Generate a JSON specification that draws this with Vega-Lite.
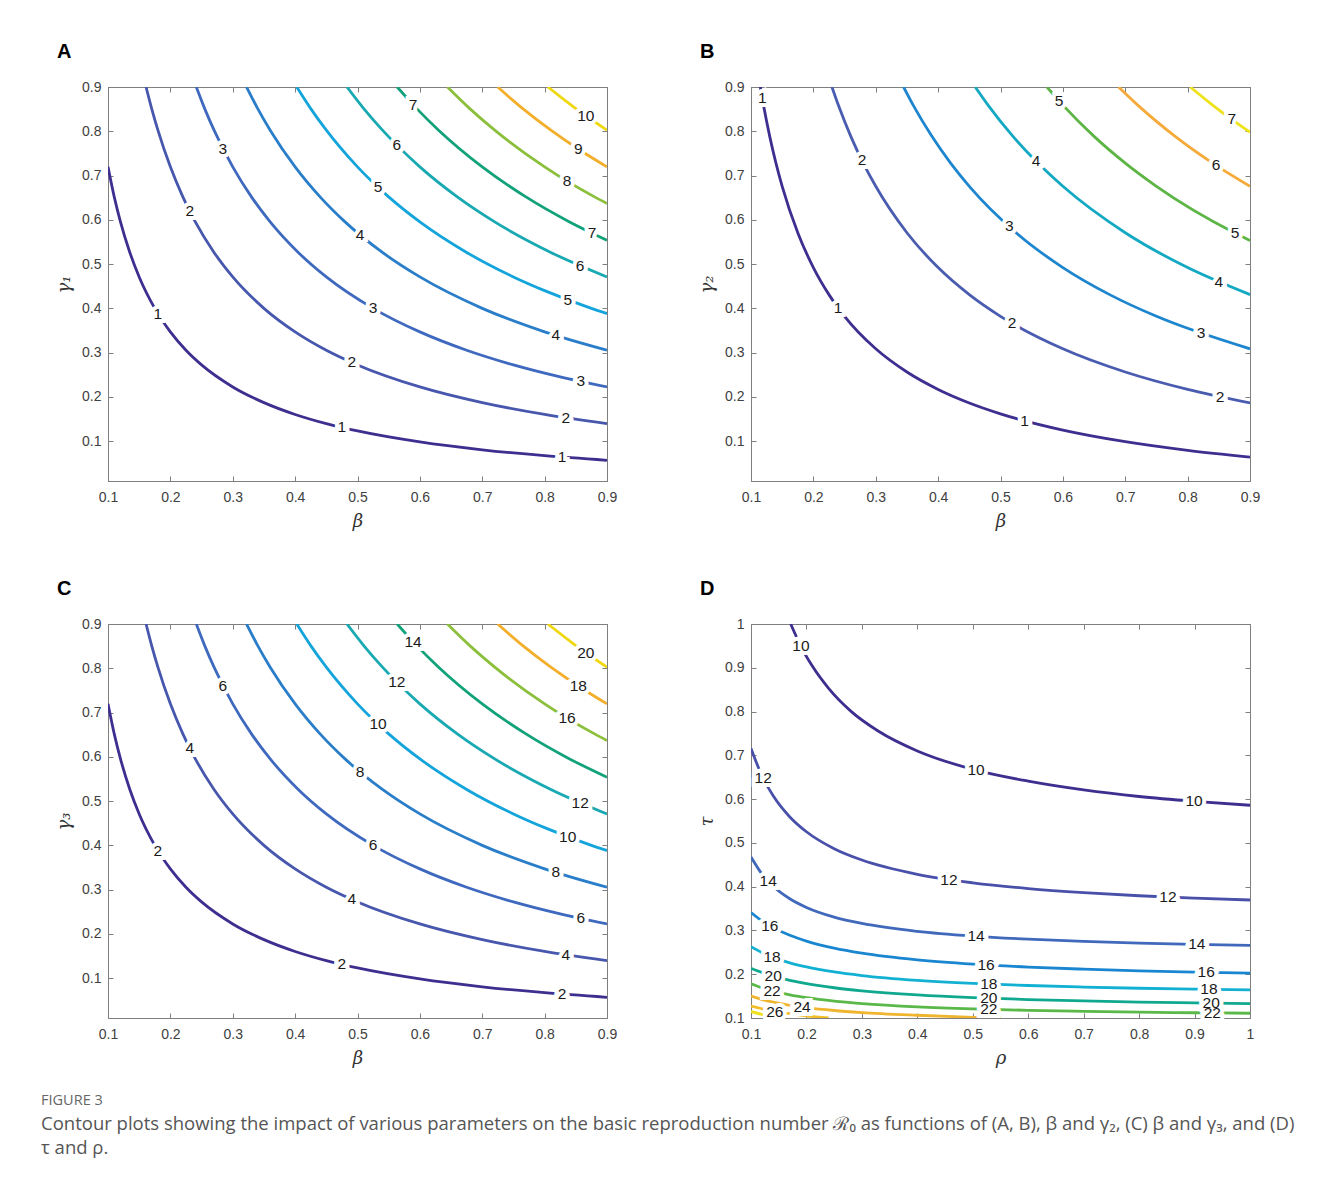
{
"$schema": "https://vega.github.io/schema/vega-lite/v6.json",
"background": "white",
"padding": {"left": 41, "top": 41, "right": 5, "bottom": 5},
"bounds": "flush",
"columns": 2,
"spacing": {"row": 143, "column": 144},
"resolve": {"scale": {"color": "independent"}},
"title": {"text": "FIGURE 3", "subtitle": ["Contour plots showing the impact of various parameters on the basic reproduction number ℛ₀ as functions of (A, B), β and γ₂, (C) β and γ₃, and (D)", "τ and ρ."], "orient": "bottom", "anchor": "start", "frame": "bounds", "dx": -14, "offset": 26, "font": "Open Sans", "fontSize": 14.5, "fontWeight": "normal", "color": "#666666", "subtitleFont": "Open Sans", "subtitleFontSize": 18.5, "subtitleColor": "#555555", "subtitleLineHeight": 24, "subtitlePadding": 7},
"datasets": {
"A": [
{"x":0.1,"y":0.7196,"level":1},{"x":0.11,"y":0.6518,"level":1},{"x":0.12,"y":0.5953,"level":1},{"x":0.135,"y":0.5263,"level":1},{"x":0.15,"y":0.471,"level":1},{"x":0.175,"y":0.4,"level":1},{"x":0.2,"y":0.3468,"level":1},{"x":0.225,"y":0.3053,"level":1},{"x":0.25,"y":0.2722,"level":1},{"x":0.3,"y":0.2225,"level":1},{"x":0.35,"y":0.187,"level":1},{"x":0.4,"y":0.1603,"level":1},{"x":0.45,"y":0.1396,"level":1},{"x":0.5,"y":0.123,"level":1},{"x":0.6,"y":0.0982,"level":1},{"x":0.7,"y":0.0804,"level":1},{"x":0.8,"y":0.0671,"level":1},{"x":0.9,"y":0.0568,"level":1},
{"x":0.161,"y":0.9,"level":2},{"x":0.17,"y":0.8512,"level":2},{"x":0.18,"y":0.8025,"level":2},{"x":0.2,"y":0.7196,"level":2},{"x":0.22,"y":0.6518,"level":2},{"x":0.24,"y":0.5953,"level":2},{"x":0.27,"y":0.5263,"level":2},{"x":0.3,"y":0.471,"level":2},{"x":0.35,"y":0.4,"level":2},{"x":0.4,"y":0.3468,"level":2},{"x":0.45,"y":0.3053,"level":2},{"x":0.5,"y":0.2722,"level":2},{"x":0.6,"y":0.2225,"level":2},{"x":0.7,"y":0.187,"level":2},{"x":0.8,"y":0.1603,"level":2},{"x":0.9,"y":0.1396,"level":2},
{"x":0.2416,"y":0.9,"level":3},{"x":0.255,"y":0.8512,"level":3},{"x":0.27,"y":0.8025,"level":3},{"x":0.3,"y":0.7196,"level":3},{"x":0.33,"y":0.6518,"level":3},{"x":0.36,"y":0.5953,"level":3},{"x":0.405,"y":0.5263,"level":3},{"x":0.45,"y":0.471,"level":3},{"x":0.525,"y":0.4,"level":3},{"x":0.6,"y":0.3468,"level":3},{"x":0.675,"y":0.3053,"level":3},{"x":0.75,"y":0.2722,"level":3},{"x":0.825,"y":0.2451,"level":3},{"x":0.9,"y":0.2225,"level":3},
{"x":0.3221,"y":0.9,"level":4},{"x":0.34,"y":0.8512,"level":4},{"x":0.36,"y":0.8025,"level":4},{"x":0.4,"y":0.7196,"level":4},{"x":0.44,"y":0.6518,"level":4},{"x":0.48,"y":0.5953,"level":4},{"x":0.54,"y":0.5263,"level":4},{"x":0.6,"y":0.471,"level":4},{"x":0.7,"y":0.4,"level":4},{"x":0.8,"y":0.3468,"level":4},{"x":0.9,"y":0.3053,"level":4},
{"x":0.4026,"y":0.9,"level":5},{"x":0.425,"y":0.8512,"level":5},{"x":0.45,"y":0.8025,"level":5},{"x":0.5,"y":0.7196,"level":5},{"x":0.55,"y":0.6518,"level":5},{"x":0.6,"y":0.5953,"level":5},{"x":0.675,"y":0.5263,"level":5},{"x":0.75,"y":0.471,"level":5},{"x":0.8,"y":0.44,"level":5},{"x":0.875,"y":0.4,"level":5},{"x":0.9,"y":0.3882,"level":5},
{"x":0.4831,"y":0.9,"level":6},{"x":0.51,"y":0.8512,"level":6},{"x":0.54,"y":0.8025,"level":6},{"x":0.6,"y":0.7196,"level":6},{"x":0.66,"y":0.6518,"level":6},{"x":0.72,"y":0.5953,"level":6},{"x":0.81,"y":0.5263,"level":6},{"x":0.9,"y":0.471,"level":6},
{"x":0.5636,"y":0.9,"level":7},{"x":0.595,"y":0.8512,"level":7},{"x":0.63,"y":0.8025,"level":7},{"x":0.7,"y":0.7196,"level":7},{"x":0.77,"y":0.6518,"level":7},{"x":0.84,"y":0.5953,"level":7},{"x":0.9,"y":0.5539,"level":7},
{"x":0.6442,"y":0.9,"level":8},{"x":0.68,"y":0.8512,"level":8},{"x":0.72,"y":0.8025,"level":8},{"x":0.8,"y":0.7196,"level":8},{"x":0.88,"y":0.6518,"level":8},{"x":0.9,"y":0.6368,"level":8},
{"x":0.7247,"y":0.9,"level":9},{"x":0.765,"y":0.8512,"level":9},{"x":0.81,"y":0.8025,"level":9},{"x":0.855,"y":0.7589,"level":9},{"x":0.9,"y":0.7196,"level":9},
{"x":0.8052,"y":0.9,"level":10},{"x":0.85,"y":0.8512,"level":10},{"x":0.9,"y":0.8025,"level":10}
],
"Alab": [
{"x":0.18,"y":0.388,"label":"1"},{"x":0.475,"y":0.131,"label":"1"},{"x":0.828,"y":0.064,"label":"1"},
{"x":0.231,"y":0.62,"label":"2"},{"x":0.491,"y":0.278,"label":"2"},{"x":0.834,"y":0.153,"label":"2"},
{"x":0.284,"y":0.761,"label":"3"},{"x":0.525,"y":0.4,"label":"3"},{"x":0.858,"y":0.235,"label":"3"},
{"x":0.504,"y":0.566,"label":"4"},{"x":0.818,"y":0.339,"label":"4"},
{"x":0.533,"y":0.673,"label":"5"},{"x":0.837,"y":0.419,"label":"5"},
{"x":0.563,"y":0.769,"label":"6"},{"x":0.857,"y":0.496,"label":"6"},
{"x":0.589,"y":0.86,"label":"7"},{"x":0.876,"y":0.57,"label":"7"},
{"x":0.836,"y":0.688,"label":"8"},{"x":0.854,"y":0.76,"label":"9"},{"x":0.866,"y":0.835,"label":"10"}
],
"C": [
{"x":0.1,"y":0.7196,"level":2},{"x":0.11,"y":0.6518,"level":2},{"x":0.12,"y":0.5953,"level":2},{"x":0.135,"y":0.5263,"level":2},{"x":0.15,"y":0.471,"level":2},{"x":0.175,"y":0.4,"level":2},{"x":0.2,"y":0.3468,"level":2},{"x":0.225,"y":0.3053,"level":2},{"x":0.25,"y":0.2722,"level":2},{"x":0.3,"y":0.2225,"level":2},{"x":0.35,"y":0.187,"level":2},{"x":0.4,"y":0.1603,"level":2},{"x":0.45,"y":0.1396,"level":2},{"x":0.5,"y":0.123,"level":2},{"x":0.6,"y":0.0982,"level":2},{"x":0.7,"y":0.0804,"level":2},{"x":0.8,"y":0.0671,"level":2},{"x":0.9,"y":0.0568,"level":2},
{"x":0.161,"y":0.9,"level":4},{"x":0.17,"y":0.8512,"level":4},{"x":0.18,"y":0.8025,"level":4},{"x":0.2,"y":0.7196,"level":4},{"x":0.22,"y":0.6518,"level":4},{"x":0.24,"y":0.5953,"level":4},{"x":0.27,"y":0.5263,"level":4},{"x":0.3,"y":0.471,"level":4},{"x":0.35,"y":0.4,"level":4},{"x":0.4,"y":0.3468,"level":4},{"x":0.45,"y":0.3053,"level":4},{"x":0.5,"y":0.2722,"level":4},{"x":0.6,"y":0.2225,"level":4},{"x":0.7,"y":0.187,"level":4},{"x":0.8,"y":0.1603,"level":4},{"x":0.9,"y":0.1396,"level":4},
{"x":0.2416,"y":0.9,"level":6},{"x":0.255,"y":0.8512,"level":6},{"x":0.27,"y":0.8025,"level":6},{"x":0.3,"y":0.7196,"level":6},{"x":0.33,"y":0.6518,"level":6},{"x":0.36,"y":0.5953,"level":6},{"x":0.405,"y":0.5263,"level":6},{"x":0.45,"y":0.471,"level":6},{"x":0.525,"y":0.4,"level":6},{"x":0.6,"y":0.3468,"level":6},{"x":0.675,"y":0.3053,"level":6},{"x":0.75,"y":0.2722,"level":6},{"x":0.825,"y":0.2451,"level":6},{"x":0.9,"y":0.2225,"level":6},
{"x":0.3221,"y":0.9,"level":8},{"x":0.34,"y":0.8512,"level":8},{"x":0.36,"y":0.8025,"level":8},{"x":0.4,"y":0.7196,"level":8},{"x":0.44,"y":0.6518,"level":8},{"x":0.48,"y":0.5953,"level":8},{"x":0.54,"y":0.5263,"level":8},{"x":0.6,"y":0.471,"level":8},{"x":0.7,"y":0.4,"level":8},{"x":0.8,"y":0.3468,"level":8},{"x":0.9,"y":0.3053,"level":8},
{"x":0.4026,"y":0.9,"level":10},{"x":0.425,"y":0.8512,"level":10},{"x":0.45,"y":0.8025,"level":10},{"x":0.5,"y":0.7196,"level":10},{"x":0.55,"y":0.6518,"level":10},{"x":0.6,"y":0.5953,"level":10},{"x":0.675,"y":0.5263,"level":10},{"x":0.75,"y":0.471,"level":10},{"x":0.8,"y":0.44,"level":10},{"x":0.875,"y":0.4,"level":10},{"x":0.9,"y":0.3882,"level":10},
{"x":0.4831,"y":0.9,"level":12},{"x":0.51,"y":0.8512,"level":12},{"x":0.54,"y":0.8025,"level":12},{"x":0.6,"y":0.7196,"level":12},{"x":0.66,"y":0.6518,"level":12},{"x":0.72,"y":0.5953,"level":12},{"x":0.81,"y":0.5263,"level":12},{"x":0.9,"y":0.471,"level":12},
{"x":0.5636,"y":0.9,"level":14},{"x":0.595,"y":0.8512,"level":14},{"x":0.63,"y":0.8025,"level":14},{"x":0.7,"y":0.7196,"level":14},{"x":0.77,"y":0.6518,"level":14},{"x":0.84,"y":0.5953,"level":14},{"x":0.9,"y":0.5539,"level":14},
{"x":0.6442,"y":0.9,"level":16},{"x":0.68,"y":0.8512,"level":16},{"x":0.72,"y":0.8025,"level":16},{"x":0.8,"y":0.7196,"level":16},{"x":0.88,"y":0.6518,"level":16},{"x":0.9,"y":0.6368,"level":16},
{"x":0.7247,"y":0.9,"level":18},{"x":0.765,"y":0.8512,"level":18},{"x":0.81,"y":0.8025,"level":18},{"x":0.855,"y":0.7589,"level":18},{"x":0.9,"y":0.7196,"level":18},
{"x":0.8052,"y":0.9,"level":20},{"x":0.85,"y":0.8512,"level":20},{"x":0.9,"y":0.8025,"level":20}
],
"Clab": [
{"x":0.18,"y":0.388,"label":"2"},{"x":0.475,"y":0.131,"label":"2"},{"x":0.828,"y":0.064,"label":"2"},
{"x":0.231,"y":0.62,"label":"4"},{"x":0.491,"y":0.278,"label":"4"},{"x":0.834,"y":0.153,"label":"4"},
{"x":0.284,"y":0.761,"label":"6"},{"x":0.525,"y":0.4,"label":"6"},{"x":0.858,"y":0.235,"label":"6"},
{"x":0.504,"y":0.566,"label":"8"},{"x":0.818,"y":0.339,"label":"8"},
{"x":0.533,"y":0.673,"label":"10"},{"x":0.837,"y":0.419,"label":"10"},
{"x":0.563,"y":0.769,"label":"12"},{"x":0.857,"y":0.496,"label":"12"},
{"x":0.589,"y":0.86,"label":"14"},
{"x":0.836,"y":0.688,"label":"16"},{"x":0.854,"y":0.76,"label":"18"},{"x":0.866,"y":0.835,"label":"20"}
],
"B": [
{"x":0.1149,"y":0.9,"level":1},{"x":0.12,"y":0.8591,"level":1},{"x":0.13,"y":0.7885,"level":1},{"x":0.14,"y":0.7281,"level":1},{"x":0.15,"y":0.6757,"level":1},{"x":0.175,"y":0.5708,"level":1},{"x":0.2,"y":0.4921,"level":1},{"x":0.225,"y":0.431,"level":1},{"x":0.25,"y":0.382,"level":1},{"x":0.3,"y":0.3086,"level":1},{"x":0.35,"y":0.2562,"level":1},{"x":0.4,"y":0.2169,"level":1},{"x":0.45,"y":0.1863,"level":1},{"x":0.5,"y":0.1618,"level":1},{"x":0.6,"y":0.1251,"level":1},{"x":0.7,"y":0.0989,"level":1},{"x":0.8,"y":0.0793,"level":1},{"x":0.9,"y":0.064,"level":1},
{"x":0.2298,"y":0.9,"level":2},{"x":0.24,"y":0.8591,"level":2},{"x":0.26,"y":0.7885,"level":2},{"x":0.28,"y":0.7281,"level":2},{"x":0.3,"y":0.6757,"level":2},{"x":0.35,"y":0.5708,"level":2},{"x":0.4,"y":0.4921,"level":2},{"x":0.45,"y":0.431,"level":2},{"x":0.5,"y":0.382,"level":2},{"x":0.6,"y":0.3086,"level":2},{"x":0.7,"y":0.2562,"level":2},{"x":0.8,"y":0.2169,"level":2},{"x":0.9,"y":0.1863,"level":2},
{"x":0.3446,"y":0.9,"level":3},{"x":0.36,"y":0.8591,"level":3},{"x":0.39,"y":0.7885,"level":3},{"x":0.42,"y":0.7281,"level":3},{"x":0.45,"y":0.6757,"level":3},{"x":0.525,"y":0.5708,"level":3},{"x":0.6,"y":0.4921,"level":3},{"x":0.675,"y":0.431,"level":3},{"x":0.75,"y":0.382,"level":3},{"x":0.9,"y":0.3086,"level":3},
{"x":0.4595,"y":0.9,"level":4},{"x":0.48,"y":0.8591,"level":4},{"x":0.52,"y":0.7885,"level":4},{"x":0.56,"y":0.7281,"level":4},{"x":0.6,"y":0.6757,"level":4},{"x":0.7,"y":0.5708,"level":4},{"x":0.8,"y":0.4921,"level":4},{"x":0.9,"y":0.431,"level":4},
{"x":0.5744,"y":0.9,"level":5},{"x":0.6,"y":0.8591,"level":5},{"x":0.65,"y":0.7885,"level":5},{"x":0.7,"y":0.7281,"level":5},{"x":0.75,"y":0.6757,"level":5},{"x":0.875,"y":0.5708,"level":5},{"x":0.9,"y":0.5533,"level":5},
{"x":0.6893,"y":0.9,"level":6},{"x":0.72,"y":0.8591,"level":6},{"x":0.78,"y":0.7885,"level":6},{"x":0.84,"y":0.7281,"level":6},{"x":0.9,"y":0.6757,"level":6},
{"x":0.8042,"y":0.9,"level":7},{"x":0.84,"y":0.8591,"level":7},{"x":0.87,"y":0.8275,"level":7},{"x":0.9,"y":0.798,"level":7}
],
"Blab": [
{"x":0.118,"y":0.875,"label":"1"},{"x":0.2395,"y":0.401,"label":"1"},{"x":0.5385,"y":0.146,"label":"1"},
{"x":0.278,"y":0.734,"label":"2"},{"x":0.5185,"y":0.366,"label":"2"},{"x":0.852,"y":0.2,"label":"2"},
{"x":0.514,"y":0.585,"label":"3"},{"x":0.8215,"y":0.344,"label":"3"},
{"x":0.557,"y":0.732,"label":"4"},{"x":0.85,"y":0.46,"label":"4"},
{"x":0.594,"y":0.868,"label":"5"},{"x":0.876,"y":0.57,"label":"5"},
{"x":0.8455,"y":0.723,"label":"6"},{"x":0.871,"y":0.827,"label":"7"}
],
"D": [
{"x":0.1716,"y":1.0,"level":10},{"x":0.19,"y":0.949,"level":10},{"x":0.21,"y":0.905,"level":10},{"x":0.24,"y":0.853,"level":10},{"x":0.28,"y":0.801,"level":10},{"x":0.33,"y":0.755,"level":10},{"x":0.4,"y":0.71,"level":10},{"x":0.5,"y":0.668,"level":10},{"x":0.6,"y":0.641,"level":10},{"x":0.7,"y":0.621,"level":10},{"x":0.8,"y":0.606,"level":10},{"x":0.9,"y":0.595,"level":10},{"x":1.0,"y":0.586,"level":10},
{"x":0.1,"y":0.7156,"level":12},{"x":0.12,"y":0.6527,"level":12},{"x":0.14,"y":0.6075,"level":12},{"x":0.17,"y":0.5593,"level":12},{"x":0.2,"y":0.5254,"level":12},{"x":0.25,"y":0.4867,"level":12},{"x":0.3,"y":0.4608,"level":12},{"x":0.4,"y":0.4283,"level":12},{"x":0.5,"y":0.4088,"level":12},{"x":0.6,"y":0.3957,"level":12},{"x":0.7,"y":0.3864,"level":12},{"x":0.8,"y":0.3793,"level":12},{"x":0.9,"y":0.3739,"level":12},{"x":1.0,"y":0.3695,"level":12},
{"x":0.1,"y":0.4679,"level":14},{"x":0.12,"y":0.4286,"level":14},{"x":0.14,"y":0.401,"level":14},{"x":0.17,"y":0.3724,"level":14},{"x":0.2,"y":0.3526,"level":14},{"x":0.25,"y":0.3305,"level":14},{"x":0.3,"y":0.3159,"level":14},{"x":0.4,"y":0.2979,"level":14},{"x":0.5,"y":0.2872,"level":14},{"x":0.6,"y":0.2801,"level":14},{"x":0.7,"y":0.275,"level":14},{"x":0.8,"y":0.2712,"level":14},{"x":0.9,"y":0.2683,"level":14},{"x":1.0,"y":0.2659,"level":14},
{"x":0.1,"y":0.341,"level":16},{"x":0.12,"y":0.3216,"level":16},{"x":0.14,"y":0.3064,"level":16},{"x":0.17,"y":0.2889,"level":16},{"x":0.2,"y":0.2756,"level":16},{"x":0.25,"y":0.2595,"level":16},{"x":0.3,"y":0.248,"level":16},{"x":0.4,"y":0.2328,"level":16},{"x":0.5,"y":0.2231,"level":16},{"x":0.6,"y":0.2164,"level":16},{"x":0.7,"y":0.2116,"level":16},{"x":0.8,"y":0.2078,"level":16},{"x":0.9,"y":0.2049,"level":16},{"x":1.0,"y":0.2025,"level":16},
{"x":0.1,"y":0.2629,"level":18},{"x":0.12,"y":0.2493,"level":18},{"x":0.14,"y":0.2385,"level":18},{"x":0.17,"y":0.226,"level":18},{"x":0.2,"y":0.2166,"level":18},{"x":0.25,"y":0.2051,"level":18},{"x":0.3,"y":0.1969,"level":18},{"x":0.4,"y":0.186,"level":18},{"x":0.5,"y":0.179,"level":18},{"x":0.6,"y":0.1742,"level":18},{"x":0.7,"y":0.1707,"level":18},{"x":0.8,"y":0.168,"level":18},{"x":0.9,"y":0.1659,"level":18},{"x":1.0,"y":0.1642,"level":18},
{"x":0.1,"y":0.2135,"level":20},{"x":0.12,"y":0.2037,"level":20},{"x":0.14,"y":0.1956,"level":20},{"x":0.17,"y":0.1861,"level":20},{"x":0.2,"y":0.1786,"level":20},{"x":0.25,"y":0.1691,"level":20},{"x":0.3,"y":0.1622,"level":20},{"x":0.4,"y":0.1527,"level":20},{"x":0.5,"y":0.1465,"level":20},{"x":0.6,"y":0.1422,"level":20},{"x":0.7,"y":0.1389,"level":20},{"x":0.8,"y":0.1364,"level":20},{"x":0.9,"y":0.1344,"level":20},{"x":1.0,"y":0.1328,"level":20},
{"x":0.1,"y":0.178,"level":22},{"x":0.12,"y":0.1686,"level":22},{"x":0.14,"y":0.1612,"level":22},{"x":0.17,"y":0.1527,"level":22},{"x":0.2,"y":0.1463,"level":22},{"x":0.25,"y":0.1384,"level":22},{"x":0.3,"y":0.1329,"level":22},{"x":0.4,"y":0.1255,"level":22},{"x":0.5,"y":0.1208,"level":22},{"x":0.6,"y":0.1176,"level":22},{"x":0.7,"y":0.1152,"level":22},{"x":0.8,"y":0.1134,"level":22},{"x":0.9,"y":0.112,"level":22},{"x":1.0,"y":0.1109,"level":22},
{"x":0.1,"y":0.15,"level":24},{"x":0.12,"y":0.1422,"level":24},{"x":0.14,"y":0.1361,"level":24},{"x":0.17,"y":0.129,"level":24},{"x":0.2,"y":0.1236,"level":24},{"x":0.25,"y":0.1171,"level":24},{"x":0.3,"y":0.1125,"level":24},{"x":0.4,"y":0.1063,"level":24},{"x":0.5,"y":0.1015,"level":24},{"x":0.55,"y":0.1,"level":24},
{"x":0.1,"y":0.127,"level":26},{"x":0.12,"y":0.121,"level":26},{"x":0.14,"y":0.116,"level":26},{"x":0.17,"y":0.11,"level":26},{"x":0.2,"y":0.105,"level":26},{"x":0.24,"y":0.1,"level":26},
{"x":0.1,"y":0.115,"level":28},{"x":0.12,"y":0.108,"level":28},{"x":0.14,"y":0.103,"level":28},{"x":0.155,"y":0.1,"level":28}
],
"Dlab": [
{"x":0.19,"y":0.949,"label":"10"},{"x":0.506,"y":0.666,"label":"10"},{"x":0.899,"y":0.595,"label":"10"},
{"x":0.122,"y":0.648,"label":"12"},{"x":0.457,"y":0.416,"label":"12"},{"x":0.852,"y":0.376,"label":"12"},
{"x":0.131,"y":0.412,"label":"14"},{"x":0.506,"y":0.287,"label":"14"},{"x":0.904,"y":0.268,"label":"14"},
{"x":0.134,"y":0.311,"label":"16"},{"x":0.524,"y":0.221,"label":"16"},{"x":0.921,"y":0.204,"label":"16"},
{"x":0.138,"y":0.239,"label":"18"},{"x":0.529,"y":0.178,"label":"18"},{"x":0.926,"y":0.166,"label":"18"},
{"x":0.14,"y":0.196,"label":"20"},{"x":0.529,"y":0.145,"label":"20"},{"x":0.93,"y":0.134,"label":"20"},
{"x":0.138,"y":0.162,"label":"22"},{"x":0.529,"y":0.12,"label":"22"},{"x":0.932,"y":0.112,"label":"22"},
{"x":0.192,"y":0.125,"label":"24"},{"x":0.143,"y":0.113,"label":"26"}
]
},
"concat": [
{"width": 499, "height": 394, "title": {"text": "A"},
 "layer": [
  {"data": {"name": "A"}, "mark": {"type": "line", "interpolate": "monotone", "strokeWidth": 2.8, "clip": true},
   "encoding": {
    "x": {"field": "x", "type": "quantitative", "scale": {"domain": [0.1, 0.9], "nice": false, "zero": false}, "axis": {"title": "β", "orient": "bottom", "values": [0.1,0.2,0.3,0.4,0.5,0.6,0.7,0.8,0.9], "format": "~g"}},
    "y": {"field": "y", "type": "quantitative", "scale": {"domain": [0.01, 0.9], "nice": false, "zero": false}, "axis": {"title": "γ₁", "orient": "left", "values": [0.1,0.2,0.3,0.4,0.5,0.6,0.7,0.8,0.9], "format": "~g"}},
    "color": {"field": "level", "type": "nominal", "scale": {"domain": [1,2,3,4,5,6,7,8,9,10], "range": ["#3d2f8f","#4757ad","#3e69bf","#2a7ec9","#14a4dc","#18a9b2","#12a27a","#8cbf3c","#f3ae2b","#efd80f"]}, "legend": null}
   }},
  {"data": {"name": "Alab"}, "mark": {"type": "text", "fill": "white", "stroke": "white", "strokeWidth": 8, "fontSize": 15.5, "font": "Liberation Sans"},
   "encoding": {
    "x": {"field": "x", "type": "quantitative", "axis": {"orient": "top", "labels": false, "title": null, "values": [0.1,0.2,0.3,0.4,0.5,0.6,0.7,0.8,0.9]}},
    "y": {"field": "y", "type": "quantitative", "axis": {"orient": "right", "labels": false, "title": null, "values": [0.1,0.2,0.3,0.4,0.5,0.6,0.7,0.8,0.9]}},
    "text": {"field": "label"}
   }},
  {"data": {"name": "Alab"}, "mark": {"type": "text", "fill": "#1a1a1a", "fontSize": 15.5, "font": "Liberation Sans"},
   "encoding": {
    "x": {"field": "x", "type": "quantitative", "axis": null},
    "y": {"field": "y", "type": "quantitative", "axis": null},
    "text": {"field": "label"}
   }}
 ],
 "resolve": {"axis": {"x": "independent", "y": "independent"}}
},
{"width": 499, "height": 394, "title": {"text": "B"},
 "layer": [
  {"data": {"name": "B"}, "mark": {"type": "line", "interpolate": "monotone", "strokeWidth": 2.8, "clip": true},
   "encoding": {
    "x": {"field": "x", "type": "quantitative", "scale": {"domain": [0.1, 0.9], "nice": false, "zero": false}, "axis": {"title": "β", "orient": "bottom", "values": [0.1,0.2,0.3,0.4,0.5,0.6,0.7,0.8,0.9], "format": "~g"}},
    "y": {"field": "y", "type": "quantitative", "scale": {"domain": [0.01, 0.9], "nice": false, "zero": false}, "axis": {"title": "γ₂", "orient": "left", "values": [0.1,0.2,0.3,0.4,0.5,0.6,0.7,0.8,0.9], "format": "~g"}},
    "color": {"field": "level", "type": "nominal", "scale": {"domain": [1,2,3,4,5,6,7], "range": ["#3d2f8f","#4a5cb0","#1d86cf","#13a9c2","#5cb544","#f5aa3a","#eee21a"]}, "legend": null}
   }},
  {"data": {"name": "Blab"}, "mark": {"type": "text", "fill": "white", "stroke": "white", "strokeWidth": 8, "fontSize": 15.5, "font": "Liberation Sans"},
   "encoding": {
    "x": {"field": "x", "type": "quantitative", "axis": {"orient": "top", "labels": false, "title": null, "values": [0.1,0.2,0.3,0.4,0.5,0.6,0.7,0.8,0.9]}},
    "y": {"field": "y", "type": "quantitative", "axis": {"orient": "right", "labels": false, "title": null, "values": [0.1,0.2,0.3,0.4,0.5,0.6,0.7,0.8,0.9]}},
    "text": {"field": "label"}
   }},
  {"data": {"name": "Blab"}, "mark": {"type": "text", "fill": "#1a1a1a", "fontSize": 15.5, "font": "Liberation Sans"},
   "encoding": {
    "x": {"field": "x", "type": "quantitative", "axis": null},
    "y": {"field": "y", "type": "quantitative", "axis": null},
    "text": {"field": "label"}
   }}
 ],
 "resolve": {"axis": {"x": "independent", "y": "independent"}}
},
{"width": 499, "height": 394, "title": {"text": "C"},
 "layer": [
  {"data": {"name": "C"}, "mark": {"type": "line", "interpolate": "monotone", "strokeWidth": 2.8, "clip": true},
   "encoding": {
    "x": {"field": "x", "type": "quantitative", "scale": {"domain": [0.1, 0.9], "nice": false, "zero": false}, "axis": {"title": "β", "orient": "bottom", "values": [0.1,0.2,0.3,0.4,0.5,0.6,0.7,0.8,0.9], "format": "~g"}},
    "y": {"field": "y", "type": "quantitative", "scale": {"domain": [0.01, 0.9], "nice": false, "zero": false}, "axis": {"title": "γ₃", "orient": "left", "values": [0.1,0.2,0.3,0.4,0.5,0.6,0.7,0.8,0.9], "format": "~g"}},
    "color": {"field": "level", "type": "nominal", "scale": {"domain": [2,4,6,8,10,12,14,16,18,20], "range": ["#3d2f8f","#4757ad","#3e69bf","#2a7ec9","#14a4dc","#18a9b2","#12a27a","#8cbf3c","#f3ae2b","#efd80f"]}, "legend": null}
   }},
  {"data": {"name": "Clab"}, "mark": {"type": "text", "fill": "white", "stroke": "white", "strokeWidth": 8, "fontSize": 15.5, "font": "Liberation Sans"},
   "encoding": {
    "x": {"field": "x", "type": "quantitative", "axis": {"orient": "top", "labels": false, "title": null, "values": [0.1,0.2,0.3,0.4,0.5,0.6,0.7,0.8,0.9]}},
    "y": {"field": "y", "type": "quantitative", "axis": {"orient": "right", "labels": false, "title": null, "values": [0.1,0.2,0.3,0.4,0.5,0.6,0.7,0.8,0.9]}},
    "text": {"field": "label"}
   }},
  {"data": {"name": "Clab"}, "mark": {"type": "text", "fill": "#1a1a1a", "fontSize": 15.5, "font": "Liberation Sans"},
   "encoding": {
    "x": {"field": "x", "type": "quantitative", "axis": null},
    "y": {"field": "y", "type": "quantitative", "axis": null},
    "text": {"field": "label"}
   }}
 ],
 "resolve": {"axis": {"x": "independent", "y": "independent"}}
},
{"width": 499, "height": 394, "title": {"text": "D"},
 "layer": [
  {"data": {"name": "D"}, "mark": {"type": "line", "interpolate": "monotone", "strokeWidth": 2.8, "clip": true},
   "encoding": {
    "x": {"field": "x", "type": "quantitative", "scale": {"domain": [0.1, 1], "nice": false, "zero": false}, "axis": {"title": "ρ", "orient": "bottom", "values": [0.1,0.2,0.3,0.4,0.5,0.6,0.7,0.8,0.9,1], "format": "~g"}},
    "y": {"field": "y", "type": "quantitative", "scale": {"domain": [0.1, 1], "nice": false, "zero": false}, "axis": {"title": "τ", "orient": "left", "values": [0.1,0.2,0.3,0.4,0.5,0.6,0.7,0.8,0.9,1], "format": "~g"}},
    "color": {"field": "level", "type": "nominal", "scale": {"domain": [10,12,14,16,18,20,22,24,26,28], "range": ["#3d2f8f","#4950a9","#4068bb","#1a86d0","#12b0d2","#10a88e","#5ab848","#efb52e","#f2be28","#efe11c"]}, "legend": null}
   }},
  {"data": {"name": "Dlab"}, "mark": {"type": "text", "fill": "white", "stroke": "white", "strokeWidth": 8, "fontSize": 15.5, "font": "Liberation Sans"},
   "encoding": {
    "x": {"field": "x", "type": "quantitative", "axis": {"orient": "top", "labels": false, "title": null, "values": [0.1,0.2,0.3,0.4,0.5,0.6,0.7,0.8,0.9,1]}},
    "y": {"field": "y", "type": "quantitative", "axis": {"orient": "right", "labels": false, "title": null, "values": [0.1,0.2,0.3,0.4,0.5,0.6,0.7,0.8,0.9,1]}},
    "text": {"field": "label"}
   }},
  {"data": {"name": "Dlab"}, "mark": {"type": "text", "fill": "#1a1a1a", "fontSize": 15.5, "font": "Liberation Sans"},
   "encoding": {
    "x": {"field": "x", "type": "quantitative", "axis": null},
    "y": {"field": "y", "type": "quantitative", "axis": null},
    "text": {"field": "label"}
   }}
 ],
 "resolve": {"axis": {"x": "independent", "y": "independent"}}
}
],
"config": {
 "font": "Liberation Sans",
 "view": {"stroke": "#7f7f7f", "strokeWidth": 1},
 "axis": {"grid": false, "domainColor": "#7f7f7f", "tickColor": "#7f7f7f", "tickSize": -5, "labelColor": "#404040", "labelFont": "Liberation Sans", "labelFontSize": 14, "labelFlush": false, "labelOverlap": false, "titleFont": "DejaVu Serif", "titleFontStyle": "italic", "titleFontWeight": "normal", "titleFontSize": 18, "titleColor": "#333333", "titlePadding": 8},
 "axisX": {"labelPadding": 14},
 "axisY": {"labelPadding": 12},
 "title": {"anchor": "start", "frame": "group", "fontSize": 20, "fontWeight": "bold", "font": "Liberation Sans", "color": "#000000", "dx": -51, "offset": 18}
}
}
